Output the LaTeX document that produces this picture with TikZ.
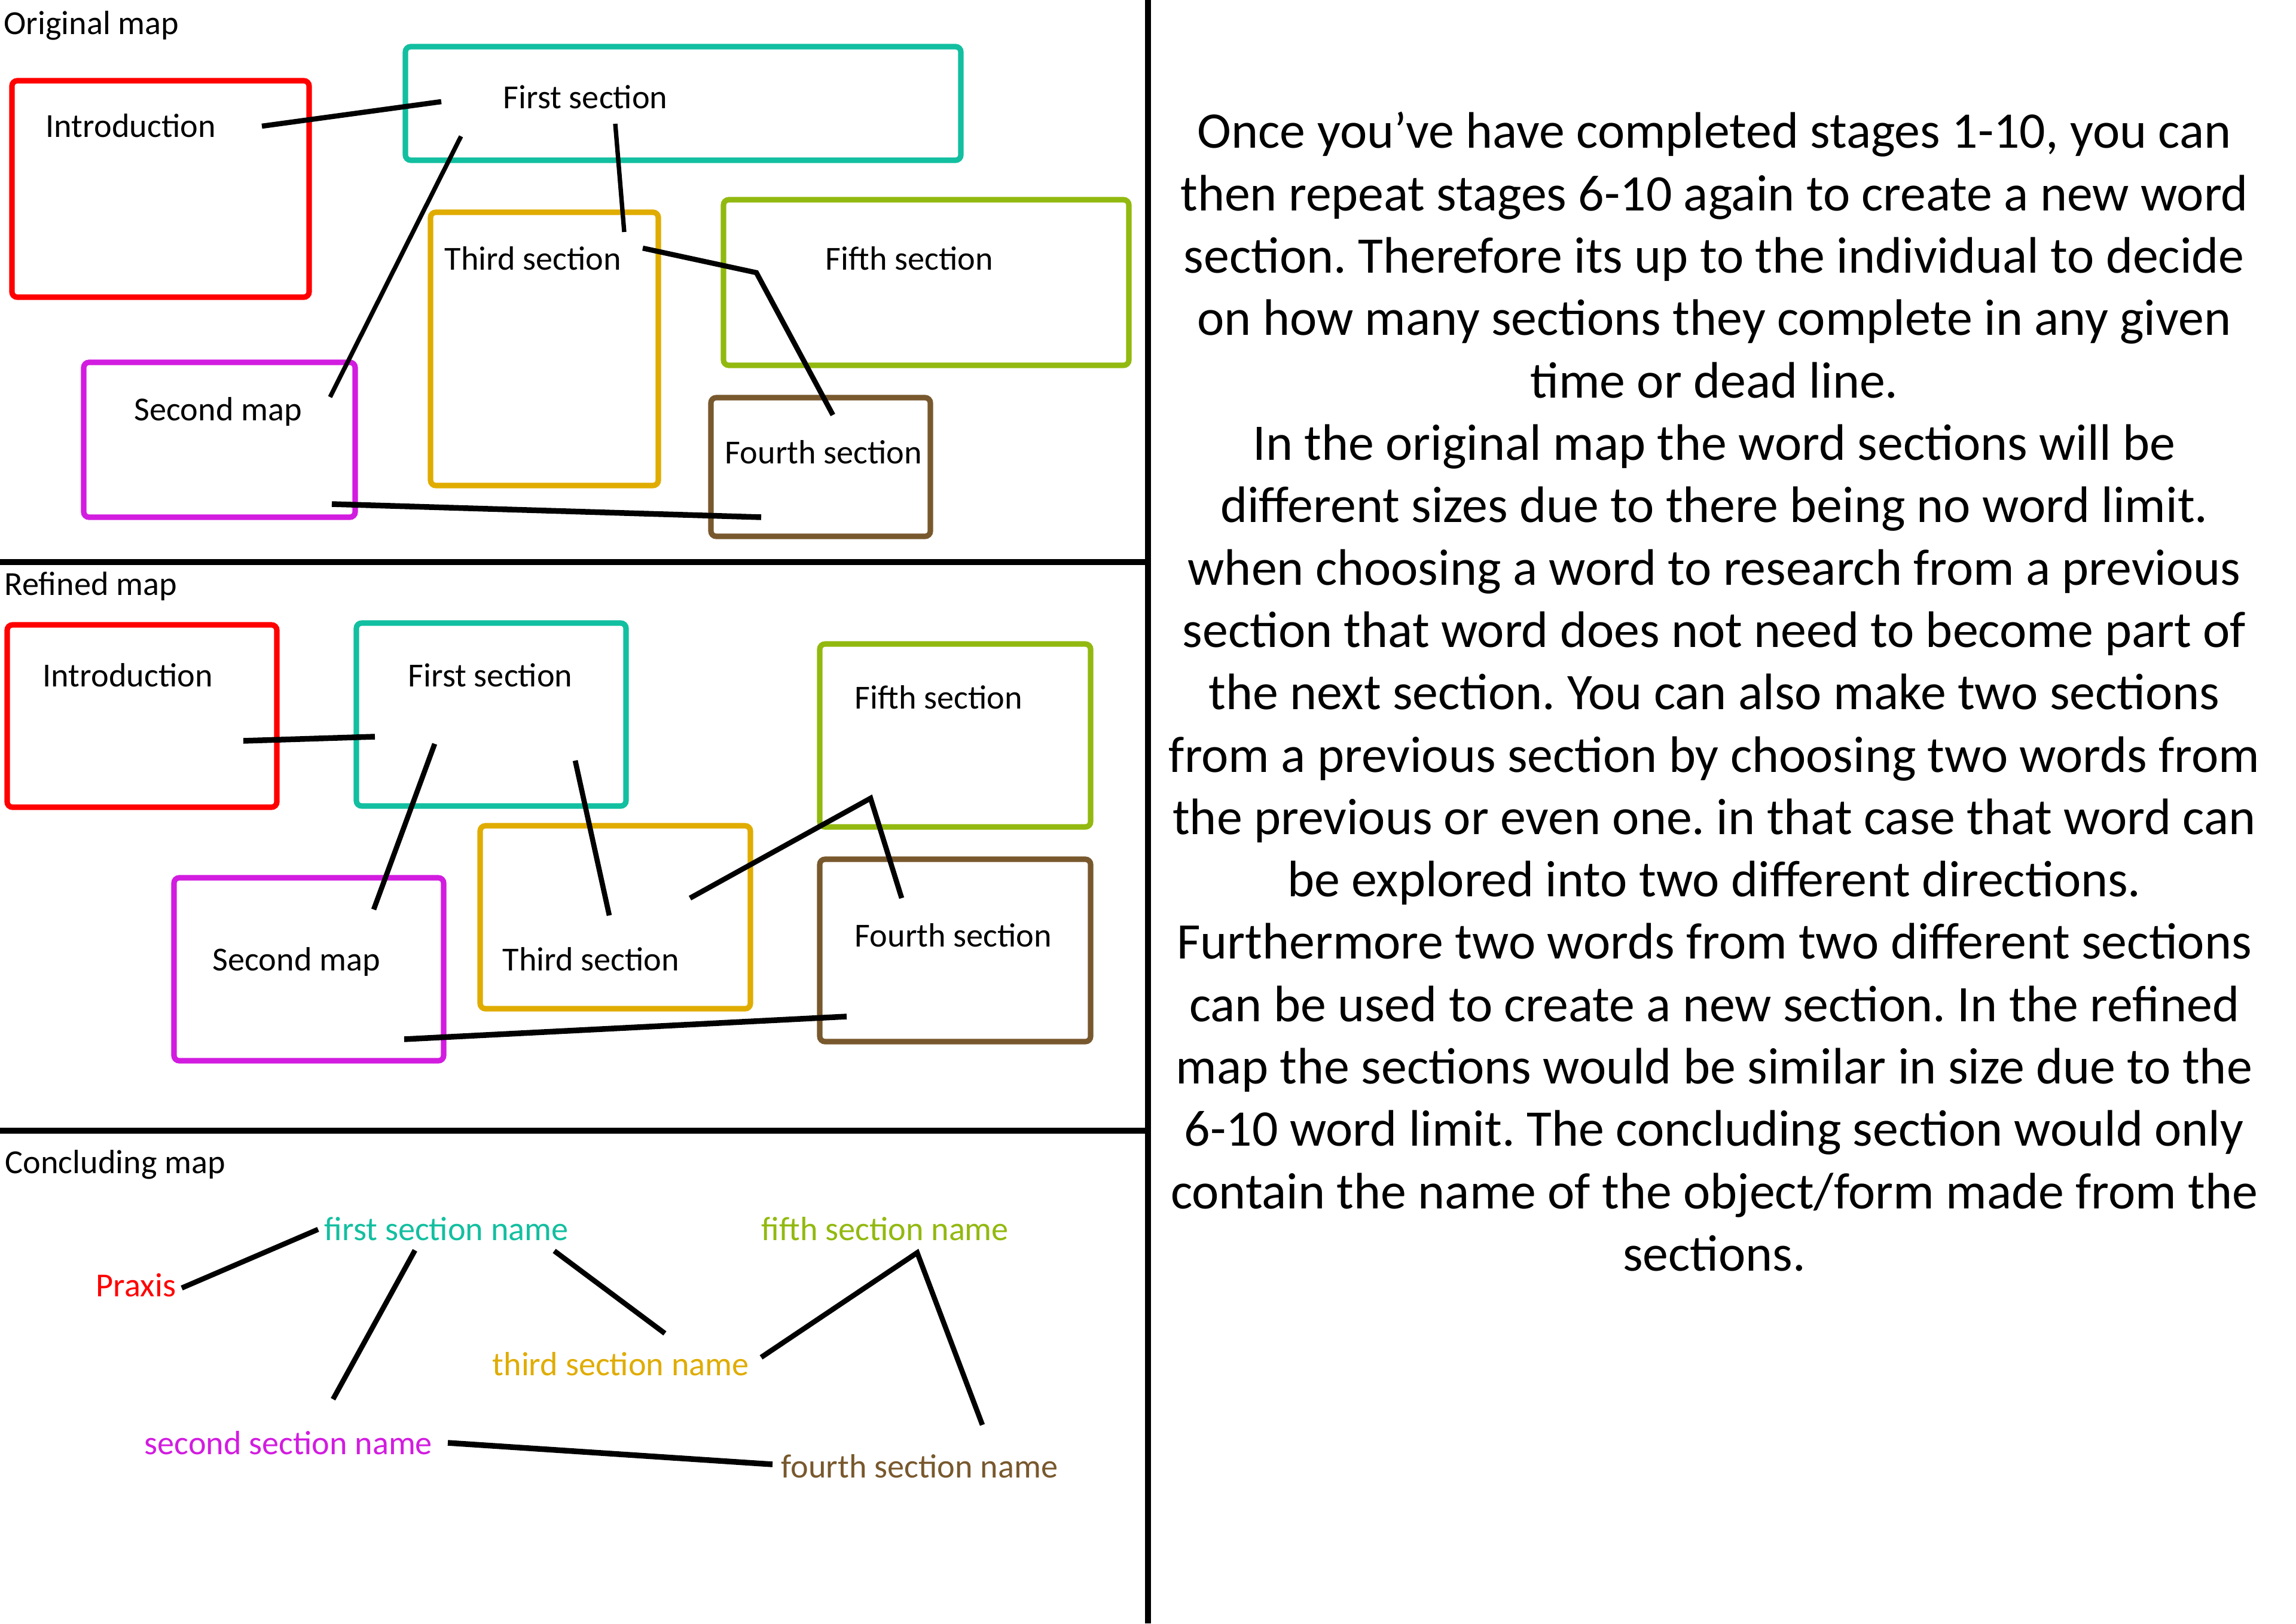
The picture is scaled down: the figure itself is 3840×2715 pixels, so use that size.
\documentclass[tikz,border=0pt]{standalone}
\usepackage{fontspec}
\setmainfont{Carlito}
\usetikzlibrary{fit}
\definecolor{cred}{RGB}{255,0,0}
\definecolor{cteal}{RGB}{18,191,160}
\definecolor{cgold}{RGB}{224,172,0}
\definecolor{cgreen}{RGB}{146,185,15}
\definecolor{cmag}{RGB}{210,28,224}
\definecolor{cbrown}{RGB}{120,88,45}
\frenchspacing
\begin{document}
\begin{tikzpicture}[x=0.01cm,y=-0.01cm,
  secbox/.style={draw=#1, line width=2.6pt, rounded corners=2.5pt, inner sep=0pt},
  lbl/.style={inner sep=0pt, anchor=base west, font=\fontsize{16}{19}\selectfont},
  link/.style={line width=2.1pt},
  midlink/.style={line width=2.45pt},
  heavy/.style={line width=2.7pt},
  divider/.style={line width=2.7pt},
  paraline/.style={inner sep=0pt, anchor=base, font=\fontsize{24.4}{29}\selectfont}]
\useasboundingbox (0,0) rectangle (3840,2715);
\fill[white] (0,0) rectangle (3840,2715);

% dividers
\draw[divider] (1920,0) -- (1920,2715);
\draw[divider] (0,940) -- (1920,940);
\draw[divider] (0,1891) -- (1920,1891);

% ---------------- Original map ----------------
\node[lbl] (tO) at (6,58) {Original map};
\node[secbox=cred,   fit={(20,135)(517,497)}]   (oI) {};
\node[secbox=cteal,  fit={(678,78)(1607,268)}]  (oF) {};
\node[secbox=cgold,  fit={(720,355)(1101,812)}] (oT) {};
\node[secbox=cgreen, fit={(1210,334)(1888,611)}] (oV) {};
\node[secbox=cmag,   fit={(140,606)(594,865)}]  (oS) {};
\node[secbox=cbrown, fit={(1189,665)(1556,897)}] (oR) {};
\node[lbl] (oIt) at (76,229) {Introduction};
\node[lbl] (oFt) at (841,182) {First section};
\node[lbl] (oTt) at (743,451) {Third section};
\node[lbl] (oVt) at (1380,451) {Fifth section};
\node[lbl] (oSt) at (224,703) {Second map};
\node[lbl] (oRt) at (1212,775) {Fourth section};
\coordinate (oc1a) at (438,211);  \coordinate (oc1b) at (738,170);
\coordinate (oc2a) at (771,228);  \coordinate (oc2b) at (552,664);
\coordinate (oc3a) at (1029,207); \coordinate (oc3b) at (1044,388);
\coordinate (oc4a) at (1075,415); \coordinate (oc4b) at (1265,456); \coordinate (oc4c) at (1393,694);
\coordinate (oc5a) at (555,843);  \coordinate (oc5b) at (1273,865);
\draw[midlink] (oc1a) -- (oc1b);
\draw[link] (oc2a) -- (oc2b);
\draw[link] (oc3a) -- (oc3b);
\draw[midlink] (oc4a) -- (oc4b) -- (oc4c);
\draw[heavy] (oc5a) -- (oc5b);

% ---------------- Refined map ----------------
\node[lbl] (tR) at (7,995) {Refined map};
\node[secbox=cred,   fit={(12,1045)(463,1350)}]   (rI) {};
\node[secbox=cteal,  fit={(596,1042)(1047,1348)}] (rF) {};
\node[secbox=cgreen, fit={(1371,1077)(1824,1383)}] (rV) {};
\node[secbox=cmag,   fit={(291,1468)(742,1774)}]  (rS) {};
\node[secbox=cgold,  fit={(803,1381)(1255,1687)}] (rT) {};
\node[secbox=cbrown, fit={(1371,1437)(1824,1742)}] (rR) {};
\node[lbl] (rIt) at (71,1148) {Introduction};
\node[lbl] (rFt) at (682,1148) {First section};
\node[lbl] (rVt) at (1429,1185) {Fifth section};
\node[lbl] (rSt) at (355,1623) {Second map};
\node[lbl] (rTt) at (840,1623) {Third section};
\node[lbl] (rRt) at (1429,1583) {Fourth section};
\coordinate (rc1a) at (407,1239);  \coordinate (rc1b) at (627,1232);
\coordinate (rc2a) at (727,1244);  \coordinate (rc2b) at (625,1521);
\coordinate (rc3a) at (962,1272);  \coordinate (rc3b) at (1019,1531);
\coordinate (rc4a) at (1154,1502); \coordinate (rc4b) at (1456,1335); \coordinate (rc4c) at (1508,1502);
\coordinate (rc5a) at (676,1738);  \coordinate (rc5b) at (1416,1700);
\draw[heavy] (rc1a) -- (rc1b);
\draw[midlink] (rc2a) -- (rc2b);
\draw[midlink] (rc3a) -- (rc3b);
\draw[midlink] (rc4a) -- (rc4b) -- (rc4c);
\draw[heavy] (rc5a) -- (rc5b);

% ---------------- Concluding map ----------------
\node[lbl] (tC) at (8,1962) {Concluding map};
\node[lbl, text=cred]   (cP) at (160,2168) {Praxis};
\node[lbl, text=cteal]  (cF) at (542,2074) {first section name};
\node[lbl, text=cgreen] (cV) at (1273,2074) {fifth section name};
\node[lbl, text=cgold]  (cT) at (823,2300) {third section name};
\node[lbl, text=cmag]   (cS) at (241,2432) {second section name};
\node[lbl, text=cbrown] (cR) at (1306,2471) {fourth section name};
\coordinate (cc1a) at (304,2154);  \coordinate (cc1b) at (532,2056);
\coordinate (cc2a) at (694,2091);  \coordinate (cc2b) at (557,2340);
\coordinate (cc3a) at (927,2092);  \coordinate (cc3b) at (1112,2230);
\coordinate (cc4a) at (1273,2270); \coordinate (cc4b) at (1534,2095); \coordinate (cc4c) at (1643,2383);
\coordinate (cc5a) at (749,2413);  \coordinate (cc5b) at (1292,2449);
\draw[midlink] (cc1a) -- (cc1b);
\draw[midlink] (cc2a) -- (cc2b);
\draw[midlink] (cc3a) -- (cc3b);
\draw[midlink] (cc4a) -- (cc4b) -- (cc4c);
\draw[heavy] (cc5a) -- (cc5b);

% ---------------- Paragraph ----------------
\foreach \t [count=\i] in {
  {Once you’ve have completed stages 1-10, you can},
  {then repeat stages 6-10 again to create a new word},
  {section. Therefore its up to the individual to decide},
  {on how many sections they complete in any given},
  {time or dead line.},
  {In the original map the word sections will be},
  {different sizes due to there being no word limit.},
  {when choosing a word to research from a previous},
  {section that word does not need to become part of},
  {the next section. You can also make two sections},
  {from a previous section by choosing two words from},
  {the previous or even one. in that case that word can},
  {be explored into two different directions.},
  {Furthermore two words from two different sections},
  {can be used to create a new section. In the refined},
  {map the sections would be similar in size due to the},
  {6-10 word limit. The concluding section would only},
  {contain the name of the object/form made from the},
  {sections.}}
  \node[paraline] (p\i) at (2867,{248+(\i-1)*104.3}) {\t};
\end{tikzpicture}
\end{document}
